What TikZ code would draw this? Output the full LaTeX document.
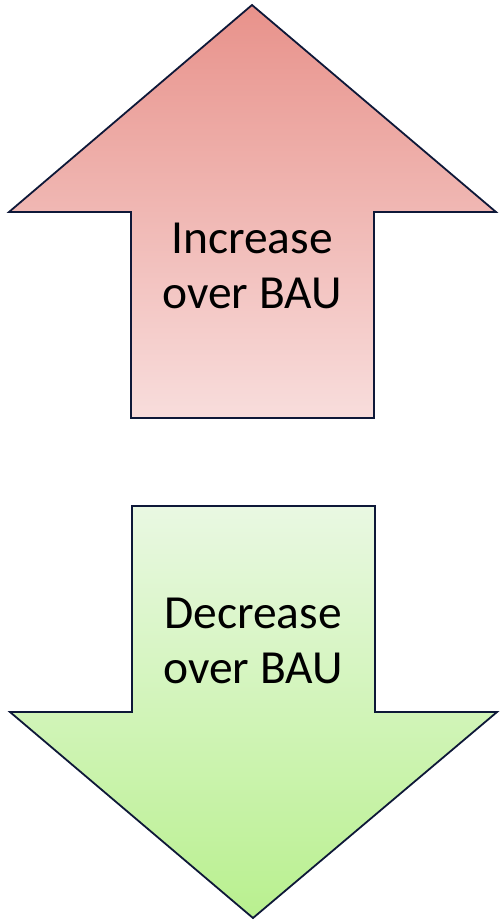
\documentclass[tikz,border=0pt]{standalone}
\usepackage{fontspec}
\setmainfont{Carlito}
\definecolor{upTop}{HTML}{E8928B}
\definecolor{upBot}{HTML}{F8DDDC}
\definecolor{dnTop}{HTML}{E9F8E2}
\definecolor{dnBot}{HTML}{B9F08F}
\definecolor{edge}{HTML}{0E1838}
\tikzset{
  arrowshape/.style={draw=edge, line width=1.8pt, line join=miter},
  label/.style={align=center, font=\fontsize{47.5}{55.5}\selectfont, text=black, inner sep=0pt}
}
\begin{document}
\begin{tikzpicture}[x=1pt, y=-1pt]
\useasboundingbox (0,0) rectangle (500,922);
% upward arrow
\path[arrowshape, top color=upTop, bottom color=upBot]
  (252,5) -- (496,212) -- (374,212) -- (374,418) -- (131,418) -- (131,212) -- (9,212) -- cycle;
\node[label] (up) at (252,266) {Increase\\over BAU};
% downward arrow
\path[arrowshape, top color=dnTop, bottom color=dnBot]
  (132,506) -- (375,506) -- (375,712) -- (497,712) -- (253,918) -- (10,712) -- (132,712) -- cycle;
\node[label] (down) at (253,641) {Decrease\\over BAU};
\end{tikzpicture}
\end{document}
